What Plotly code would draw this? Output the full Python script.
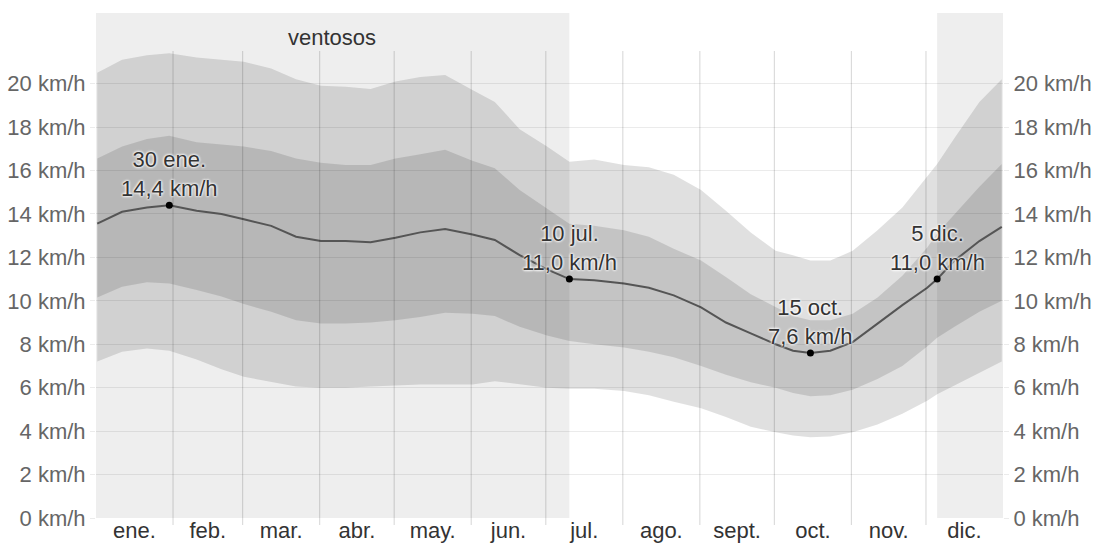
import plotly.graph_objects as go

# ---- data (day-of-year index, 0 = 1 Jan) ----
days = [0, 10, 20, 29, 40, 50, 59, 70, 80, 90, 100, 110, 120, 130, 140, 151, 160, 170, 181, 190,
        200, 212, 222, 232, 243, 253, 263, 273, 280, 287, 295, 304, 314, 324, 334, 338, 345, 355, 364]
p90 = [20.5, 21.1, 21.3, 21.4, 21.2, 21.1, 21.0, 20.7, 20.2, 19.9, 19.85, 19.75, 20.1, 20.3, 20.4, 19.7, 19.15, 17.9, 17.1, 16.4,
       16.5, 16.25, 16.15, 15.8, 15.1, 14.15, 13.15, 12.3, 12.1, 11.85, 11.85, 12.3, 13.25, 14.3, 15.7, 16.3, 17.5, 19.15, 20.2]
p75 = [16.55, 17.1, 17.45, 17.6, 17.3, 17.2, 17.1, 16.9, 16.55, 16.35, 16.25, 16.25, 16.55, 16.75, 16.95, 16.45, 16.1, 15.1, 14.25, 13.55,
       13.45, 13.25, 12.95, 12.4, 11.85, 11.1, 10.3, 9.7, 9.3, 9.1, 9.1, 9.4, 10.15, 11.15, 12.45, 13.1, 14.0, 15.25, 16.3]
p50 = [13.55, 14.1, 14.3, 14.4, 14.15, 14.0, 13.75, 13.45, 12.95, 12.75, 12.75, 12.7, 12.9, 13.15, 13.3, 13.05, 12.8, 12.1, 11.45, 11.0,
       10.95, 10.8, 10.6, 10.25, 9.7, 9.0, 8.5, 8.0, 7.7, 7.6, 7.7, 8.1, 8.95, 9.8, 10.6, 11.0, 11.85, 12.75, 13.4]
p25 = [10.15, 10.65, 10.85, 10.8, 10.5, 10.2, 9.85, 9.5, 9.1, 8.95, 8.95, 9.0, 9.1, 9.25, 9.45, 9.4, 9.3, 8.8, 8.4, 8.15,
       8.0, 7.85, 7.65, 7.4, 7.0, 6.6, 6.25, 6.0, 5.75, 5.6, 5.65, 5.9, 6.4, 7.0, 7.9, 8.3, 8.8, 9.5, 10.0]
p10 = [7.2, 7.65, 7.8, 7.7, 7.3, 6.85, 6.5, 6.25, 6.05, 6.0, 6.0, 6.05, 6.1, 6.15, 6.15, 6.15, 6.3, 6.15, 6.0, 5.95,
       5.95, 5.85, 5.65, 5.35, 5.05, 4.65, 4.2, 3.95, 3.8, 3.72, 3.75, 3.95, 4.3, 4.8, 5.4, 5.7, 6.1, 6.7, 7.2]

month_labels = ["ene.", "feb.", "mar.", "abr.", "may.", "jun.", "jul.", "ago.", "sept.", "oct.", "nov.", "dic."]
month_starts = [0, 31, 59, 90, 120, 151, 181, 212, 243, 273, 304, 334, 365]

ann_days = [29, 190, 287, 338]
ann_vals = [14.4, 11.0, 7.6, 11.0]
ann_dates = ["30 ene.", "10 jul.", "15 oct.", "5 dic."]

windy_label = "ventosos"
windy_end_day = 190      # 10 jul.
windy_start_day = 338    # 5 dic.

y_ticks = [0, 2, 4, 6, 8, 10, 12, 14, 16, 18, 20]
y_ticktext = [f"{v} km/h" for v in y_ticks]

# ---- styling ----
FONT = "Liberation Sans, Arial, sans-serif"
YMAX = 23.25
BAND = "rgba(0,0,0,0.12)"
xs = [d + 0.5 for d in days]

fig = go.Figure()
fig.add_trace(go.Scatter(x=xs, y=p10, mode="lines", line=dict(width=0), hoverinfo="skip", showlegend=False))
fig.add_trace(go.Scatter(x=xs, y=p90, mode="lines", line=dict(width=0), fill="tonexty", fillcolor=BAND,
                         hoverinfo="skip", showlegend=False))
fig.add_trace(go.Scatter(x=xs, y=p25, mode="lines", line=dict(width=0), hoverinfo="skip", showlegend=False))
fig.add_trace(go.Scatter(x=xs, y=p75, mode="lines", line=dict(width=0), fill="tonexty", fillcolor=BAND,
                         hoverinfo="skip", showlegend=False))
fig.add_trace(go.Scatter(x=xs, y=p50, mode="lines", line=dict(color="#555555", width=2),
                         hoverinfo="skip", showlegend=False))
fig.add_trace(go.Scatter(x=[d + 0.5 for d in ann_days], y=ann_vals, mode="markers",
                         marker=dict(color="black", size=7), hoverinfo="skip", showlegend=False))
# invisible trace to activate the right-hand axis
fig.add_trace(go.Scatter(x=[xs[0]], y=[p50[0]], yaxis="y2", mode="markers", marker=dict(opacity=0),
                         hoverinfo="skip", showlegend=False))

shapes = []
# windy season shading
shapes.append(dict(type="rect", xref="x", yref="paper", x0=0, x1=windy_end_day + 0.5, y0=0, y1=1,
                   fillcolor="#eeeeee", line=dict(width=0), layer="below"))
shapes.append(dict(type="rect", xref="x", yref="paper", x0=windy_start_day + 0.5, x1=365, y0=0, y1=1,
                   fillcolor="#eeeeee", line=dict(width=0), layer="below"))
# month boundary lines
for m in month_starts[1:-1]:
    shapes.append(dict(type="line", xref="x", yref="paper", x0=m, x1=m, y0=-7 / 505, y1=21.5 / YMAX,
                       line=dict(color="rgba(0,0,0,0.14)", width=1.2), layer="above"))

annotations = []
annotations.append(dict(x=windy_end_day / 2, y=0.951, xref="x", yref="paper", text=windy_label,
                        yanchor="middle", showarrow=False,
                        font=dict(family=FONT, size=22, color="#333333")))
for d, v, lab in zip(ann_days, ann_vals, ann_dates):
    txt = lab + "<br>" + f"{v:.1f}".replace(".", ",") + " km/h"
    annotations.append(dict(x=d + 0.5, y=v, xref="x", yref="y", text=txt, showarrow=False,
                            yanchor="bottom", yshift=2,
                            font=dict(family=FONT, size=22, color="#333333",
                                      shadow="0 0 3px white, 0 0 3px white, 0 0 2px white")))

tick_x = [(month_starts[i] + month_starts[i + 1]) / 2 for i in range(12)]

fig.update_layout(
    width=1093, height=546,
    margin=dict(l=96, r=90, t=13, b=28, autoexpand=False),
    paper_bgcolor="white", plot_bgcolor="white",
    font=dict(family=FONT, size=22, color="#666666"),
    shapes=shapes, annotations=annotations,
    xaxis=dict(range=[0, 365], tickvals=tick_x, ticktext=month_labels, showgrid=False, zeroline=False,
               ticks="", ticklabelstandoff=-3, automargin=False,
               tickfont=dict(family=FONT, size=22, color="#333333"), fixedrange=True),
    yaxis=dict(range=[0, YMAX], tickvals=y_ticks, ticktext=y_ticktext, showgrid=True,
               gridcolor="rgba(0,0,0,0.08)", gridwidth=1, zeroline=False, automargin=False,
               ticks="outside", ticklen=5, tickcolor="rgba(0,0,0,0.08)",
               tickfont=dict(family=FONT, size=22, color="#666666"), fixedrange=True),
    yaxis2=dict(range=[0, YMAX], overlaying="y", side="right", tickvals=y_ticks, ticktext=y_ticktext,
                showgrid=False, zeroline=False, ticks="outside", ticklen=5, tickcolor="rgba(0,0,0,0.08)",
                automargin=False,
                tickfont=dict(family=FONT, size=22, color="#666666"), fixedrange=True),
)

fig.write_html("out.html", config={"displayModeBar": False},
               post_script="document.body.style.margin='0';document.body.style.overflow='hidden';")
